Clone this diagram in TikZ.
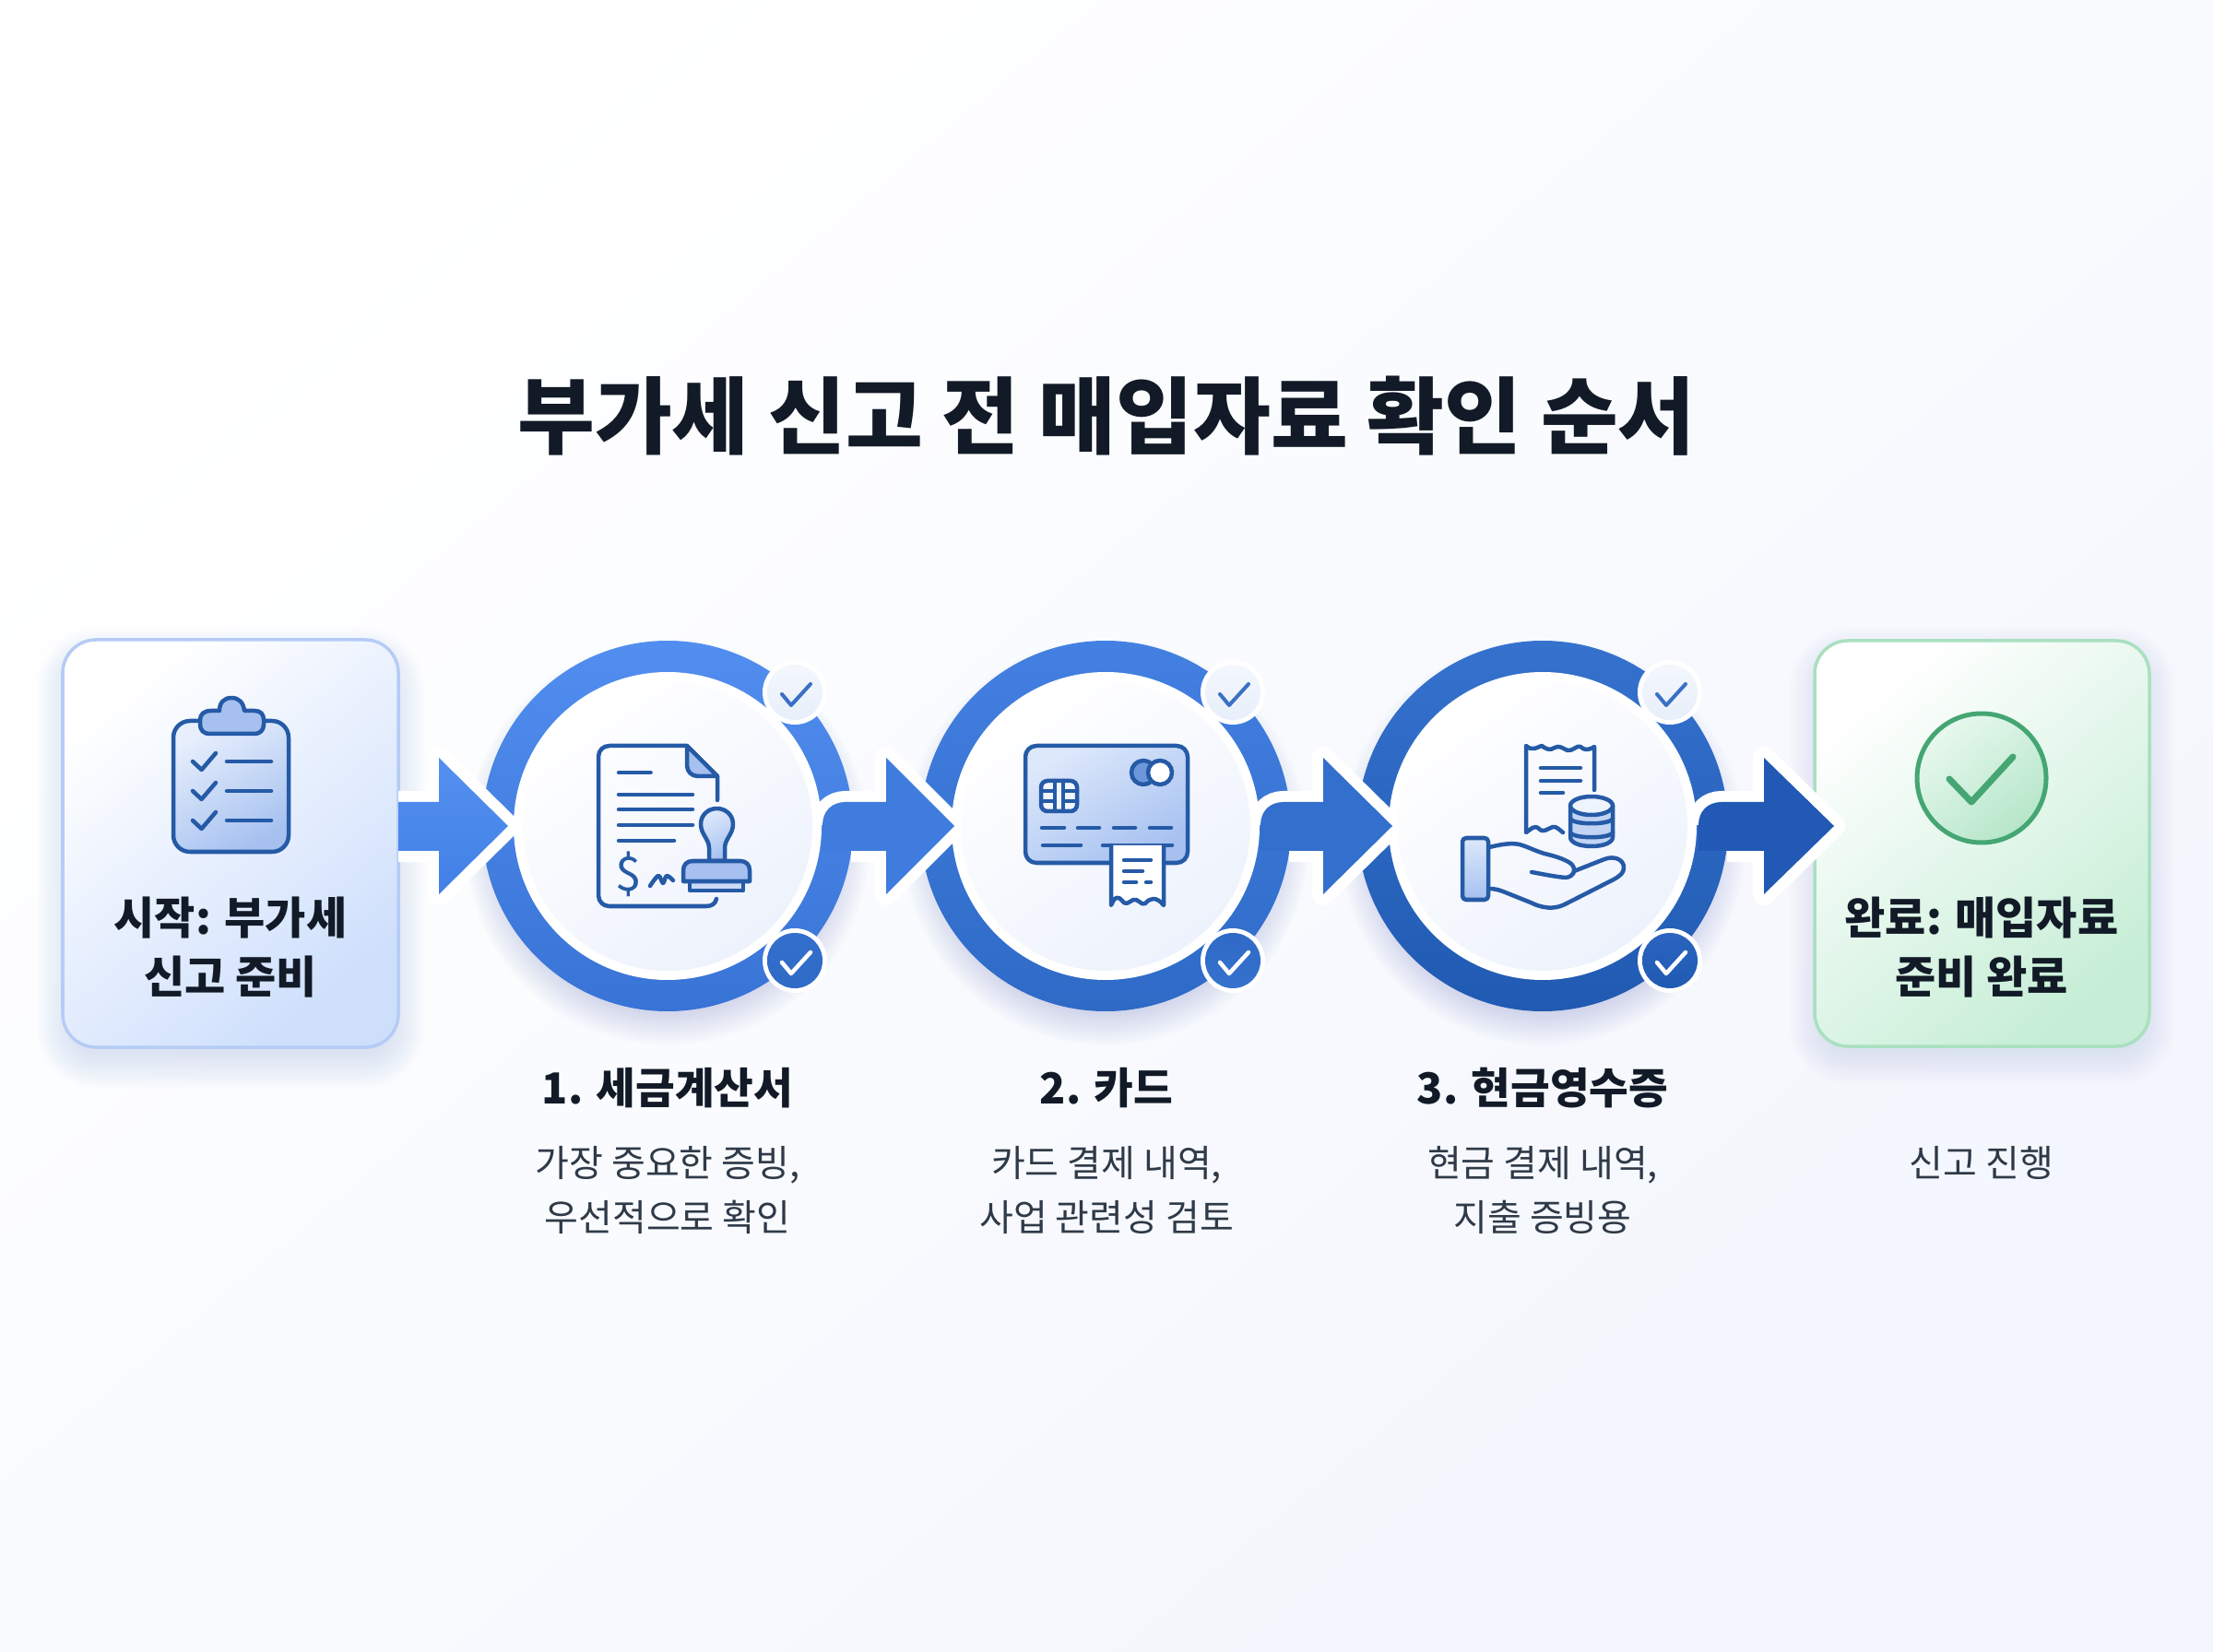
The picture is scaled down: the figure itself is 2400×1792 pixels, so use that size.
\documentclass[tikz,border=0pt]{standalone}
\usepackage{fontspec}
\setmainfont{Noto Sans CJK KR}
\definecolor{ink}{HTML}{111A26}
\definecolor{sub}{HTML}{2F3A48}
\definecolor{ico}{HTML}{255AA6}
\definecolor{badgeck}{HTML}{3A70C4}
\definecolor{icofill}{HTML}{A6C1F0}
\definecolor{icomid}{HTML}{6D97DA}
\definecolor{icolite}{HTML}{DDE8FB}
\definecolor{bluebox}{HTML}{CEDFFC}
\definecolor{blueedge}{HTML}{B5CCF5}
\definecolor{greenbox}{HTML}{C6EED6}
\definecolor{greenedge}{HTML}{A9E0C0}
\definecolor{gico}{HTML}{45A673}
\definecolor{gdisc}{HTML}{B5E6C9}
\definecolor{paledisc}{HTML}{E8EFFB}
\definecolor{softdisc}{HTML}{EDF2FC}
\definecolor{bgend}{HTML}{F3F6FD}
\definecolor{ringshadow}{HTML}{4A6FA8}
\definecolor{boxshadow}{HTML}{6F9BF0}
\definecolor{gboxshadow}{HTML}{8FA9D0}
\definecolor{ringAt}{HTML}{528EEF}
\definecolor{ringAb}{HTML}{3873D6}
\definecolor{ringBt}{HTML}{4380E2}
\definecolor{ringBb}{HTML}{2E6AC6}
\definecolor{ringCt}{HTML}{3572CE}
\definecolor{ringCb}{HTML}{205AB2}
\definecolor{arrAt}{HTML}{5490F0}
\definecolor{arrAb}{HTML}{4280E6}
\definecolor{arrB}{HTML}{3F7CDD}
\definecolor{arrC}{HTML}{336FCC}
\definecolor{arrD}{HTML}{2159B4}
\newcommand\pxw{0.28453pt}
\tikzset{
 lw/.style={line width=#1*0.28453pt},
 icoline/.style={draw=ico,lw=4.5,line cap=round,line join=round},
 thin ico/.style={draw=ico,lw=4.5,line cap=round,line join=round},
 halo/.style={draw=white,lw=24,line join=round},
 boxlabel/.style={align=center,inner sep=0pt,text=ink,font=\fontsize{13.66pt}{18.2pt}\selectfont\bfseries},
 steptitle/.style={align=center,inner sep=0pt,text=ink,font=\fontsize{13.2pt}{17.9pt}\selectfont\bfseries},
 stepdesc/.style={align=center,inner sep=0pt,text=sub,font=\fontsize{11.38pt}{16.9pt}\selectfont},
 titletext/.style={inner sep=0pt,text=ink,font=\fontsize{25.9pt}{30pt}\selectfont\bfseries},
}
\newcommand\haloRound[3]{\draw[halo] (#1+31,923) -- (#2,923) -- (#2,970) -- (#3,896) -- (#2,822) -- (#2,870) -- (#1+25,870) .. controls (#1+10,870) and (#1,880) .. (#1,895);}
\newcommand\bodyRound[4]{\fill[#4] (#1,923) -- (#2,923) -- (#2,970) -- (#3,896) -- (#2,822) -- (#2,870) -- (#1+25,870) .. controls (#1+10,870) and (#1,880) .. (#1,895) -- cycle;}
\newcommand\checkmk[4]{\draw[#3,lw=#4,line cap=round,line join=round] (#1-14,#2) -- (#1-4,#2+12) -- (#1+17,#2-11);}
\begin{document}
\begin{tikzpicture}[x=0.01cm,y=-0.01cm]
\useasboundingbox (0,0) rectangle (2400,1792);
\shade[top color=white,bottom color=bgend,shading angle=40] (0,0) rectangle (2400,1792);
% box shadows
\foreach \e in {-8,-5,...,28}{
 \pgfmathsetmacro\rc{(36+\e)*0.28453}
 \fill[boxshadow,opacity=0.016,rounded corners=\rc pt] (68-\e,694+16-\e) rectangle (432+\e,1136+16+\e);
 \fill[gboxshadow,opacity=0.014,rounded corners=\rc pt] (1968-\e,695+14-\e) rectangle (2331+\e,1135+14+\e);
}
% ring shadows
\foreach \cx in {724,1199,1673}{
 \foreach \e in {2,4,...,36}{
  \fill[ringshadow,opacity=0.010] (\cx,896+18) circle (184+\e);
 }
}
% boxes
\shade[top color=white,bottom color=bluebox,shading angle=40,rounded corners=36*\pxw] (68,694) rectangle (432,1136);
\draw[blueedge,lw=3.5,rounded corners=36*\pxw] (68,694) rectangle (432,1136);
\shade[top color=white,bottom color=greenbox,shading angle=40,rounded corners=36*\pxw] (1968,695) rectangle (2331,1135);
\draw[greenedge,lw=3.5,rounded corners=36*\pxw] (1968,695) rectangle (2331,1135);
% rings
\shade[even odd rule,top color=ringAt,bottom color=ringAb] (724,896) circle (201) (724,896) circle (165);
\shade[even odd rule,top color=ringBt,bottom color=ringBb] (1199,896) circle (201) (1199,896) circle (165);
\shade[even odd rule,top color=ringCt,bottom color=ringCb] (1673,896) circle (201) (1673,896) circle (165);
% arrow halos
\draw[halo] (432,923) -- (476,923) -- (476,970) -- (551,896) -- (476,822) -- (476,870) -- (432,870);
\haloRound{892}{961}{1035}
\haloRound{1367}{1435}{1510}
\haloRound{1842}{1913}{1989}
% discs
\foreach \cx in {724,1199,1673}{
 \fill[white] (\cx,896) circle (167);
 \shade[top color=white,bottom color=softdisc,shading angle=35] (\cx,896) circle (157);
}
% arrows
\shade[top color=arrAt,bottom color=arrAb] (432,923) -- (476,923) -- (476,970) -- (551,896) -- (476,822) -- (476,870) -- (432,870) -- cycle;
\bodyRound{892}{961}{1035}{arrB}
\bodyRound{1367}{1435}{1510}{arrC}
\bodyRound{1842}{1913}{1989}{arrD}
% badges
\foreach \cx/\tc/\bc in {724/arrC/ringBb,1199/ringBb/ringCt,1673/arrC!50!arrD/ringCb}{
 \fill[white] (\cx+138,751) circle (35);
 \shade[top color=white!50!paledisc,bottom color=paledisc] (\cx+138,751) circle (30);
 \checkmk{\cx+138}{753}{badgeck}{4}
 \fill[white] (\cx+138,1042) circle (35);
 \shade[top color=\tc,bottom color=\bc] (\cx+138,1042) circle (30);
 \checkmk{\cx+138}{1044}{white}{4.5}
}
% clipboard icon
\draw[icoline,top color=icolite!70!white,bottom color=icofill,shading angle=30,rounded corners=18*\pxw] (188,782) rectangle (313,924);
\draw[icoline,fill=icofill] (229,771) -- (238,771) .. controls (238,762) and (243,757) .. (251,757) .. controls (259,757) and (264,762) .. (265,771) -- (276,771) .. controls (283,771) and (286,775) .. (286,781) -- (286,786) .. controls (286,792) and (282,796) .. (276,796) -- (227,796) .. controls (221,796) and (217,792) .. (217,786) -- (217,781) .. controls (217,775) and (221,771) .. (229,771) -- cycle;
\foreach \y in {826,858,890}{
 \draw[icoline] (209,\y) -- (218.6,\y+9) -- (234,\y-9);
 \draw[icoline] (246,\y) -- (294,\y);
}
% document + stamp icon
\draw[icoline] (778,868) -- (778,842) -- (745,809) -- (661,809) .. controls (654,809) and (649,814) .. (649,821) -- (649,971) .. controls (649,978) and (654,983) .. (661,983) -- (766,983) .. controls (772,983) and (776,980) .. (777,975);
\draw[icoline,fill=icofill] (745,809) -- (745,830) .. controls (745,837) and (750,842) .. (757,842) -- (778,842) -- cycle;
\draw[icoline] (671,838) -- (705.6,838);
\draw[icoline] (671,862) -- (751,862);
\draw[icoline] (671,878) -- (751,878);
\draw[icoline] (671,895) -- (751,895);
\draw[icoline] (671,912) -- (731,912);
\node[inner sep=0pt,text=ico,font=\fontsize{14.5pt}{16pt}\selectfont] (dollar) at (681.5,948) {\$};
\draw[icoline] plot[smooth,tension=0.6] coordinates {(705,961) (714,950) (719,958) (723,950) (730,955)};
\draw[icoline,top color=icolite,bottom color=icofill,shading angle=30] (769,934) -- (769,920) .. controls (769,910) and (760,905) .. (760,894) .. controls (760,884) and (768,877) .. (777.5,877) .. controls (787,877) and (795,884) .. (795,894) .. controls (795,905) and (786,910) .. (786,920) -- (786,934) -- cycle;
\draw[icoline,fill=icofill!60!white] (748,956) rectangle (806,966);
\draw[icoline,fill=icofill] (741,956) -- (741,944) .. controls (741,938) and (745,934) .. (751,934) -- (803,934) .. controls (809,934) and (813,938) .. (813,944) -- (813,956) -- cycle;
% card icon
\draw[icoline,top color=icolite,bottom color=icofill,shading angle=30,rounded corners=12*\pxw] (1112,809) rectangle (1288,936);
\draw[icoline,fill=icomid] (1240,838) circle (13);
\draw[icoline,fill=white] (1258,838) circle (13);
\draw[icoline,fill=icolite!40!white,rounded corners=7*\pxw] (1129,847) rectangle (1168,880);
\draw[icoline] (1144,847) -- (1144,880) (1153,847) -- (1153,880) (1129,858) -- (1144,858) (1129,869) -- (1144,869) (1153,858) -- (1168,858) (1153,869) -- (1168,869);
\foreach \a/\b in {1130/1154,1169/1192,1208/1231,1247/1270}{\draw[icoline] (\a,898) -- (\b,898);}
\draw[icoline] (1131,917) -- (1172,917) (1196,917) -- (1271,917);
\fill[white] (1205,917) -- (1205,982) .. controls (1209,972) and (1213,972) .. (1217,977) .. controls (1221,983) and (1225,978) .. (1229,976) .. controls (1234,974) and (1238,983) .. (1242,980) .. controls (1247,974) and (1254,972) .. (1262,982) -- (1262,917) -- cycle;
\draw[icoline] (1205,917) -- (1205,982) .. controls (1209,972) and (1213,972) .. (1217,977) .. controls (1221,983) and (1225,978) .. (1229,976) .. controls (1234,974) and (1238,983) .. (1242,980) .. controls (1247,974) and (1254,972) .. (1262,982) -- (1262,917);
\draw[icoline] (1219,933) -- (1248,933) (1219,945) -- (1239,945) (1219,957) -- (1232,957) (1243,957) -- (1248,957);
% hand icon
\draw[thin ico] (1729,857) -- (1729,810) .. controls (1723,814) and (1718,814) .. (1714,810) .. controls (1710,808) and (1706,815) .. (1700,814) .. controls (1695,812) and (1691,808) .. (1686,811) .. controls (1681,815) and (1676,812) .. (1672,809) .. controls (1666,811) and (1662,815) .. (1655,809) -- (1655,903) .. controls (1660,900) and (1664,894) .. (1669,899) .. controls (1674,904) and (1678,899) .. (1684,897) .. controls (1688,896) and (1692,901) .. (1695,903);
\draw[icoline] (1671,833) -- (1714,833) (1671,847) -- (1714,847) (1671,860) -- (1695,860);
\draw[icoline,fill=icofill!70!white] (1703,874) -- (1703,908) .. controls (1703,914) and (1713,918) .. (1726,918) .. controls (1739,918) and (1749,914) .. (1749,908) -- (1749,874);
\fill[icolite!50!white] (1726,874) ellipse (23 and 10);
\draw[icoline] (1726,874) ellipse (23 and 10);
\draw[icoline] (1703,888) .. controls (1706,895) and (1746,895) .. (1749,888);
\draw[icoline] (1703,903) .. controls (1706,910) and (1746,910) .. (1749,903);
\draw[icoline,top color=icolite,bottom color=icofill,rounded corners=4*\pxw] (1586,909) rectangle (1614,976);
\draw[thin ico] (1615,919) .. controls (1628,916) and (1638,914) .. (1648,916) .. controls (1658,919) and (1665,923) .. (1675,926) .. controls (1688,929) and (1700,933) .. (1705,938) .. controls (1710,945) and (1706,951) .. (1698,952) .. controls (1686,951) and (1672,948) .. (1661,946);
\draw[thin ico] (1707,945) -- (1740,932) .. controls (1750,928) and (1761,932) .. (1761,941) .. controls (1761,947) and (1757,950) .. (1750,954) -- (1697,981) .. controls (1685,987) and (1672,985) .. (1660,979) -- (1630,967) .. controls (1625,965) and (1620,964) .. (1615,964);
% completed icon
\draw[draw=gico,lw=5,top color=white!60!greenbox,bottom color=gdisc,shading angle=40] (2149,844) circle (70);
\draw[gico,lw=7,line cap=round,line join=round] (2114,845) -- (2138,870) -- (2183,821);
% texts
\node[titletext] (title) at (1200,451) {부가세 신고 전 매입자료 확인 순서};
\node[boxlabel] (startlabel) at (250,1028) {시작: 부가세\\신고 준비};
\node[boxlabel] (donelabel) at (2149,1028) {완료: 매입자료\\준비 완료};
\node[steptitle] (s1) at (724,1180) {1. 세금계산서};
\node[steptitle] (s2) at (1200,1180) {2. 카드};
\node[steptitle] (s3) at (1673,1180) {3. 현금영수증};
\node[stepdesc] (d1) at (724,1291) {가장 중요한 증빙,\\우선적으로 확인};
\node[stepdesc] (d2) at (1200,1291) {카드 결제 내역,\\사업 관련성 검토};
\node[stepdesc] (d3) at (1673,1291) {현금 결제 내역,\\지출 증빙용};
\node[stepdesc] (d4) at (2149,1261) {신고 진행};
\end{tikzpicture}
\end{document}
